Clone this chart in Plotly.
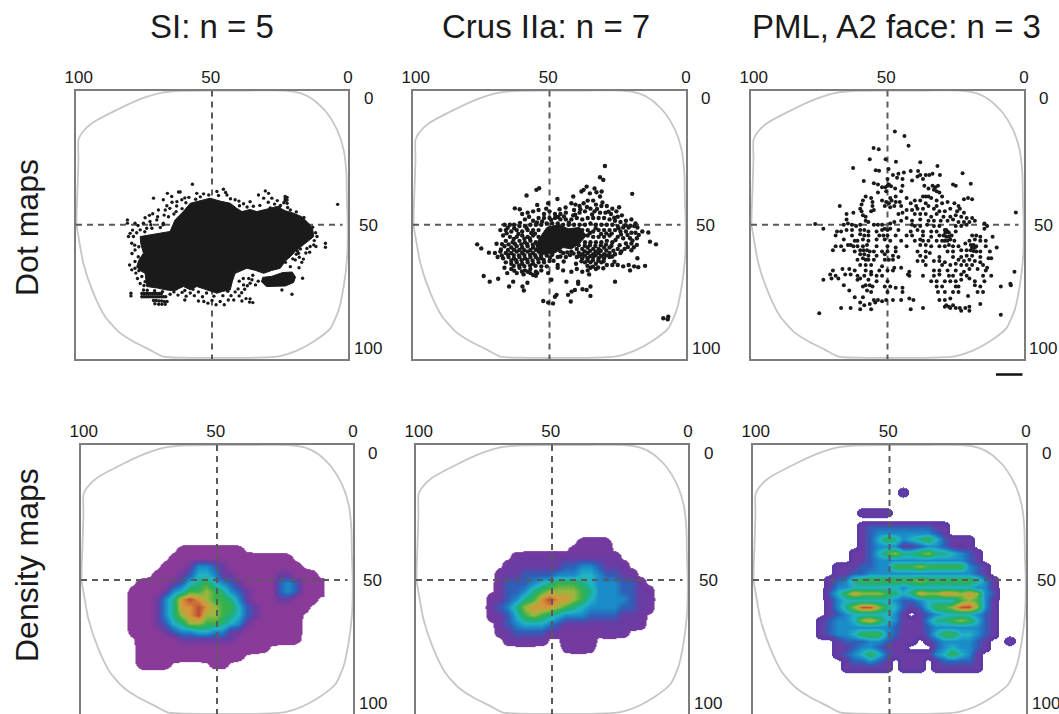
import plotly.graph_objects as go

# ---------- text ----------
titles = ["SI: n = 5", "Crus IIa: n = 7", "PML, A2 face: n = 3"]
row_labels = ["Dot maps", "Density maps"]
x_tick_vals = [99, 50.5, 0]
x_tick_text = ["100", "50", "0"]
y_label_text = ["0", "50", "100"]

# ---------- visual-field rim (percent units) ----------
rim_x = [99.1, 97.9, 94.2, 85, 76.4, 67.9, 60.5, 48.2, 36, 23.7, 17.5, 12.6, 7.7, 4, 1.6, .6, .4, .1, .4, 1.6, 3.4, 6.5,
         12.6, 18.8, 24.9, 33.5, 60.5, 67.9, 72.8, 78.9, 84.4, 89.3, 93.6, 97.3, 99.1, 99.8, 99.5, 99.1, 99.1]
rim_y = [18.4, 15.9, 12.2, 7.2, 3.2, .7, .1, 0, 0, 0, 1, 3.5, 8.4, 14.7, 22.1, 30.8, 40.7, 50.7, 63.1, 73, 81.7, 88.6,
         93.5, 96.9, 98.9, 99.5, 99.5, 99.1, 96.6, 93.5, 89.8, 84.2, 75.5, 64.3, 54.4, 49.9, 38.3, 25.8, 18.4]

# ---------- dot maps ----------
si_core_x = [58, 54.5, 50.7, 47, 43.3, 41, 39, 36, 33.5, 30, 26.1, 23, 20, 17, 14.5, 13, 12.6, 14.5, 16.3, 19, 21.2, 23, 24.9, 28, 31, 34,
             37.2, 39.5, 41.5, 42.5, 43.3, 46, 48.2, 52, 55.6, 58, 60.5, 64, 66.6, 70, 74, 74.6, 76.5, 77.7, 76.8, 75.2, 76.2, 76.4, 71, 65.4, 63.6, 60.5, 58]
si_core_y = [42, 41.2, 40.1, 41.2, 42, 43.8, 45.1, 44.3, 45.1, 44.2, 43.2, 44.8, 45.7, 47, 49.4, 51.5, 54.4, 56, 57.5, 59.5, 61.9, 63.5, 66.2, 67, 68.1, 67,
             66.2, 67.2, 68.1, 71, 74.3, 74.8, 75.5, 74.2, 73, 74.2, 73, 74.6, 74.3, 73.6, 73, 68.1, 67, 65.6, 63, 60.6, 57, 54.4, 53.4, 52.5, 48.2, 45, 42]
si_chunk_x = [31.5, 28, 24, 20.5, 19.3, 20, 23, 26, 30, 32]
si_chunk_y = [69.6, 69.2, 67.8, 67.6, 69.5, 71.5, 72.8, 73, 73, 71]
si_dots = [
 (57.2,34.9),(45.8,36.8),(62.3,37.8),(61.7,37.8),(66.4,38.3),(71.5,40.1),(64.8,39.5),(67.9,40.7),(66.6,42.9),(69.7,44.5),
 (67.2,44.5),(65.5,43.9),(62.9,41.4),(61.1,40.7),(55.6,38.3),(53.1,38.5),(48.2,37.6),(44.5,38.9),(41.5,40.7),(38.4,42.2),
 (36,41.4),(32.9,38.9),(30.4,37.4),(29.2,38.3),(28,40.1),(23.1,39.5),(23.1,40.3),(23.1,41),(22.4,39.8),(22.4,40.8),(22.4,42),
 (23.6,41.8),(31,40.1),(21.2,44.5),(3.8,42.4),(81.1,49.4),(81.1,48.2),(78.3,49.4),(75.2,49.4),(72.8,48.8),(70.3,48.2),
 (67.9,49.4),(74,51.3),(72.1,51.3),(76.4,51.9),(80.1,53.2),(80.7,54.4),(78.9,54.4),(79.5,56.9),(78.3,59.4),(77.1,61.9),
 (78.3,63.7),(79.5,66.8),(78.3,66.2),(76.5,64.2),(75.8,69.3),(74.6,71.2),(75.2,74.3),(79.8,76.5),(79.8,75.5),(11.4,54.4),
 (12.6,57.5),(13.9,58.1),(15.1,58.8),(11.8,58.1),(8.3,56.9),(8.3,58.4),(16.7,69.9),(20.6,75.9),(24.3,74.3),(18.2,60.6),
 (19.4,63.1),(21.2,65.6),(23,64),(60,40),(58.5,39.8),(56,40.5),(63,43),(61,44),(64,46),(70,47),(66,47),(73,46.5),
 (75.8,75.6),(75,75.6),(74.2,75.6),(73.4,75.6),(72.6,75.6),(71.8,75.6),(71,75.6),(70.2,75.6),(69.4,75.6),(68.6,75.6),
 (75.8,76.8),(75,76.8),(74.2,76.8),(73.4,76.8),(72.6,76.8),(71.8,76.8),(71,76.8),(70.2,76.8),(69.4,76.8),(68.6,76.8),(67.8,76.8),(67,76.8),
 (71.5,78.2),(70.5,78.2),(69.5,78.4),(68.5,78.4),(67.5,78.6),(66.5,78.6),(71,79.4),(69.6,79.6),(68.4,79.6),(67.2,79.6),
 (64,75),(62.5,76.2),(61,75.2),(59.5,76.6),(58,75.4),(60,78),(56.5,76.4),(55,75),(53.5,76.8),(55,78.4),(53,78.6),(51.5,79.2),
 (50,78.2),(48.5,79.8),(47,78.6),(45.5,79.8),(44,78),(43,76.4),(41.5,75),(42,78),(40,76.5),(39,78.4),(37.5,77.5),(36,77.6),(36.2,78.8),(35,79),
 (38,74),(40,71),(38.5,70),(36.5,70),(35,68.8),(33,71),(36,71.8),(34,72.4),(38.4,72.4),(18,66),(17,64),(19,61),(15.5,60.5),(17.5,59),
 (64.7,41.6),(63.2,45.1),(67.6,46.4),(71.8,45.9),(74.6,47.4),(77.2,50.3),(79.2,52),(77.7,53),(72.5,50),(69,51),(68,50),(74.7,52.6),
 (78.4,57.6),(76.9,58.2),(79.4,60.7),(80.3,65),(78,68),(76.9,67.1),(77.4,70),(76.4,71.9),(75,72.6),(73.8,74.4),(71.1,74.6),(68.2,74.9),(65.4,75.9),
 (63.2,73.9),(60,74.5),(57,74),(52,75.4),(49.3,76.6),(46,76.4),(44.2,74.8),(40.4,73.9),(39.1,75.3),(37,72.7),(35.3,70.5),
 (20.3,62.7),(17.9,62.1),(16.4,62.8),(18.6,59.8),(14.1,60.2),(12.4,55.9),(11.9,53),(13,50.9),(16.2,47.3),
 (19,45.2),(22.2,43.6),(24.8,42.8),(27,42.3),(29.3,41.6),(32.4,42.8),(34.8,43.1),(37.1,43.4),(39.9,42.9),(43.2,40.3),(47.6,39.1),(51.2,38.9),(54.3,39.6),
 (45,38),(40.1,41.2),(26,41),(25.2,43.4),(28.6,43.7),(59.6,41.8)]
crus_core_x = [55, 53, 51, 47, 43, 39, 36.5, 39, 42, 45, 48, 51, 54]
crus_core_y = [58, 54, 51, 50, 51.5, 51, 54, 57, 59, 58.5, 60.5, 61, 61]
crus_dots = [
 (29.7,28.1),(31.5,32.3),(30.3,33.3),(53.8,36.4),(54.8,37),(58.4,39.1),(47.1,40.4),(19.7,38.5),(36.4,35.8),(38.3,37.6),
 (32.8,37.9),(30.9,37.6),(35.2,38.3),(41.3,39.5),(31.5,39.5),(37.5,37),(33.5,36.5),(62.7,43.9),(58,45.5),(50.5,42),(54.5,42.6),
 (76.5,57.3),(75,58.8),(69.4,57.1),(72.2,60.4),(74.1,69.1),(71.9,71.2),(68.8,70.1),(64.8,73),(63.3,71.2),(59.9,73),(59.4,74.5),
 (58.1,71.6),(52.3,78.4),(50.5,79),(48.7,79.3),(48,76.8),(47.4,76.1),(43.8,71.2),(42.2,78.6),(43.2,76.1),(41.9,74.9),(40.7,74.3),
 (39.5,71.2),(39.5,72),(37.9,74),(36.4,74.3),(35,73),(35,76.5),(26,71.2),(8.3,84.8),(6.5,84.2),(6.7,85.2),(11,57.3),(13.2,56.3),
 (13.8,52.9),(16,52.5),(15,65.3),(17.5,65.8),(20.5,67),(17.8,62.5),(49.3,70.5),(45,67),(42,67.5),(40,66.5),(38,67.5),(35.5,68.5),(36,67),
 (50.5,68),(47,66),(53,67),(55,69),
 (42,42),(40.5,42.5),(39,43),(37.5,42),(36,41),(34,41),(33,42.5),(31,43),(29,43),(27,44),(25.5,45),(24.5,43.5),(41,44.5),(39,45.5),(37,45),
 (35,44),(33.5,45),(31.5,45.5),(29.5,45.5),(27.5,46),(25,47),(23.5,46.5),(60,46),(57.5,47),(56,45),(54,44.5),(52,46),(50,45),(48,46),
 (46,46),(44,45.5),(59,48),(56,48.5),(54,47.5),(52,47.5),(50,47.5),(48,47.5),(46,48),(44,48),(42,48),(40,47.5),(38,48),(36,47.5),(34,47.5),
 (32,47.5),(30,47.5),(28,48),(26,48.5),(24,49),(22,48.5),(20,48),(18.5,49.5),(66.5,50),(64.5,50),(63,50),(61,50.5),(59,50.5),(57,50),(55,50),(53,50),
 (51,49.5),(49,49.5),(47,49.5),(45,50),(43,50),(41,50),(39,50),(37,50),(35,49.5),(33,50),(31,50),(29,50),(27,50),(25,50.5),(23,51),(21,51),(19,50.5),(17.8,51),
 (68,52),(66,52),(64,52.5),(62,52),(60,52.5),(58,52),(56,52),(54,52),(38,52),(36,52),(34,52.5),(32,52),(30,52),(28,52),(26,52),(24,52.5),(22,52.5),(20,53),(18.5,53),
 (67,54),(64.5,54.5),(62,54.5),(60,54),(58,54.5),(56,54),(54,54.5),(36,54),(34,54.5),(32,54.5),(30,54.5),(28,54),(25,54.5),(23,55),(20.5,55),(18,55),
 (66,56),(63.5,56.5),(61,56),(59,56.5),(57,56),(55,56.5),(53.5,56),(37,56.5),(35,56.5),(33,56.5),(31,56.5),(29,56),(27,56.5),(22,57),(20,57),(18,57.5),
 (66.5,58),(64,58.5),(62,58),(60,58.5),(58,58),(56,58.5),(54,58.5),(40,59),(38,59),(36,58.5),(34,59),(32,59),(30,58.5),(28,58.5),(25,59),(22.5,59),(20,59.5),
 (70,60.5),(68,60),(66,60.5),(64,60.5),(62,60),(60,60.5),(58,60),(56,60.5),(54,60),(45,60.5),(42,60),(38,61),(36,60.5),(34,61),(32,60.5),(30,61),(28,60.5),(26,61),(24,60.5),
 (69,62),(67,62.5),(65,62),(63,62.5),(61,62),(59,62.5),(57,62),(55,62),(53,62.5),(51,61.5),(47,62),(44,62),(40,62),(38,62.5),(36,62.5),(34,62),(32,62.5),(30,62.5),(28,62),
 (66,64),(64,64.5),(62,64),(60,64.5),(58,64),(56,64.5),(54,64),(52,64),(50,63.5),(47,65),(37,64),(35,64),(33,64.5),(31,64),(29,65),(27,65),(25,65),(23,65.5),(21,65),(19,65.5),
 (66.5,66),(64,66.5),(61,66),(59,67),(57,66.5),(55,67.5),(53,65.5),(51,65.5),(35,66),(33,66.5),
 (65.5,68),(62,68),(59.5,68.5),(57,68),(54.5,68)]
crus_fill = [
 (65.3,51.1),(62.9,51.3),(60.8,49.3),(58.4,51.2),(56.7,53.1),(54.6,49.1),(52.7,48.8),(49.4,48.2),(46.8,47.1),(44.7,46.9),(42.9,49.2),(40.6,46.3),
 (38.7,44.2),(36.3,43.4),(34.4,46.2),(32.6,44.1),(30.6,41.7),(28.4,45.1),(26.3,47.4),(24.7,51.3),(22.2,50.2),(20.4,50.4),(65.7,53.2),(63.1,55.3),(61.4,53.4),
 (59.2,55.2),(57.2,55.1),(55.3,53.3),(35.2,53.1),(33.1,51.3),(31.1,53.4),(29.2,53.2),(27.2,53.3),(25.8,55.7),(23.8,53.6),(21.4,53.8),(19.6,55.9),(17.3,53.8),
 (67.4,57.2),(65,57.3),(62.7,57.1),(60.3,57.3),(58.2,57.2),(56.1,57.4),(54.4,57.3),(41.2,60.7),(39.3,57.6),(37.1,57.8),(35.2,57.6),(33.2,57.9),(31.2,57.6),(29.3,57.4),
 (27.3,57.8),(24.3,57.6),(21.3,58.3),(19.1,58.4),(67.8,59.2),(65.2,59.4),(63,59.3),(61,59.4),(59.2,59.5),(57,59.4),(55,59.3),(53,59.8),(51,59.6),(49,61.2),(46,59.9),(43.5,60.3),
 (39.3,60.4),(37.1,59.9),(35.2,59.8),(33.1,60),(31.2,59.7),(29.2,59.6),(26.6,59.7),(23.7,59.9),(67.5,61.4),(65.2,61.2),(63.1,61.3),(61.2,61.4),(59.2,61.3),(57.1,61.2),(55.3,61.3),
 (53.1,61.6),(49.8,62.2),(46,61.8),(42.5,61.3),(39.2,61.6),(37,61.5),(35.1,61.7),(33.1,61.4),(31.1,61.6),(29.1,61.4),(27,61.8),(64,63.3),(62.2,63.2),(60.2,63.2),(58.1,63.1),(56.2,63.3),
 (54.2,62.8),(52.1,63.1),(48.5,63.4),(44.8,63.7),(38.3,63.6),(36.1,63.3),(34.1,63.2),(32.1,63.4),(30.2,63.6),(26.2,63.8),(63.1,65.3),(61.1,65.2),(59.2,65.4),(57.1,65.2),(55.1,65.3),
 (40.3,64.5),(36.1,65.3),(34.1,65.6),(32.2,65.9),(30.3,66.2),(62.9,67.1),(60.1,67.4),(57.9,67.5),(56,68.7),(47.6,47.1),(51.2,44),(46.3,44.2),(44.1,43.6),(41.3,46.5),(60.9,44.2)]
pml_dots = [
 (47.3,15.3),(43.8,16.9),(42.3,20.6),(55.1,21.4),(53.2,21.9),(56.5,25.6),(50.7,25.6),(46.9,26.5),(38,26.7),(62.6,28.9),(31.7,28.1),
 (49.6,29.2),(54.3,29.7),(53.1,29.9),(46,31),(44,30.5),(41.5,30),(38.8,30),(38,31.5),(37,33),(36,31.5),(34.7,31.5),(33.5,31),(30.8,31.5),
 (22.5,30.8),(48,31.5),(46.5,32.5),(50,33),(44.5,33),(41,33.5),(39,32),(19.5,34.7),(58.7,33.7),(55,34.5),(53.5,35),(52,36),(50,35.5),(49.5,35),
 (48.7,35.7),(50.8,36),(47.2,36.5),(44.5,35.5),(36.5,35.5),(35,36.5),(33.5,35.5),(32.5,36),(31.5,35.5),(26,35),(25,35.5),(50.5,37.5),(45,37.5),(53.5,38),
 (33,37),(32,37.5),(31,38),(49,40),(47,39.5),(43,40),(37,39.5),(36,39.5),(35,39.5),(34,40),(32,41),(30,39.5),(22,40.5),(20.5,40),(19,40.5),
 (58,39.5),(59,41),(56,40),(55.5,41.5),(59.5,42.5),(55.5,43),(52,41),(50.5,41.5),(49.5,42),(48.5,41),(47,41.5),(45.5,41.5),(51,43),(49,43.5),(47.5,43),
 (45,43),(40,41),(41.5,42),(39.5,43),(38,41),(36,42),(35,43),(32,43),(30,42),(28,41.5),(25.5,42),(24,43),(23.5,44),(27,44),
 (67.5,43),(60,44),(59.5,45),(56,45),(55,44.5),(43,44.5),(41,44.5),(39,44),(37,44),(33,44),(31,45),(29,45),(24.5,45),(22,45.5),
 (65,46),(62.5,45.5),(59,46.5),(58,47),(46,46),(44.5,45.5),(40,46),(38,46),(36,46),(34,47),(32,46),(29.5,47),(27,47),(25,46.5),(23,47),(21,47.5),(19,47.5),(3,45.4),
 (65,48),(58,48.5),(57,49),(45,48.5),(43,47.5),(41,48.5),(38,48),(35,48.5),(33,48.5),(30.5,48.5),(28,48.5),(26,48),(24,49),(22,49),(20,49),(18,48.5),
 (76.5,49.7),(73.5,51.5),(66,50),(64.5,49.5),(63,50),(61.5,50.5),(60,50),(55,50),(53.5,50),(52,50),(49,49.5),(47.5,49),(41,50),(40,50.5),(38,50.5),(35.5,50),(33,50.5),(31,50.5),(25,50.5),(23,50.5),(21,50),(14.5,49.5),(13.5,50.5),
 (68.5,52.5),(67,52.5),(65,52),(63,52),(60,52),(58.5,52),(57,52.5),(54,52.5),(52,52),(51,51.5),(50,52),(49,51.5),(46,52),(41.5,52.5),(39,52),(37,52.5),(34,52.5),(32,52.5),(29,52),(28.5,52),(28,52.5),(27.5,53),(28.8,53),(25,52.5),(14.5,51.5),
 (69,54),(63,54),(60,53.5),(58.5,54),(57,54),(53,54),(51.5,54),(50,54),(47,54),(43,54),(41,54),(37,54),(34,54.5),(31,54),(29.5,54),(28.5,54.5),(27.5,54.5),(26.5,54),(19,54),(17.5,54),(16,54.5),(11.5,54.5),
 (66,55.5),(62,56),(61,56),(59,55.5),(57,56),(54,55.5),(51,55.5),(49,56),(45,56),(40,56),(38,55.5),(37,56),(35,56),(32,56),(30,56),(29,56),(28,56),(27,55.5),(25.5,56),(20,56),(18,55.5),(16,56),(14,56),
 (69,58),(67,58),(64.5,57.5),(63.5,57.5),(62.5,58),(61,58),(59,58),(57.5,57.5),(54,58),(50,58),(47,58.5),(43,58),(38,57.5),(36,57.5),(34,58),(31,58),(29,58),(27.5,57.5),(26,58),(24,58),(21.5,57),(19.5,57.5),(18.5,57.5),(17.5,58),(19,58.5),(18,58.5),(14,58),(10,58.5),
 (70,59.5),(66,59.5),(62,60),(60,59.5),(58.8,59.5),(57.5,59.5),(56.5,60),(55,60),(52,60),(50,60),(47,60),(39,60),(36,60),(34.5,60.5),(28,60),(26,60),(23,59.5),(21,59.5),(19.5,59.5),(18.5,59.8),(17.5,60),(16,60),(12.5,60),
 (60,61),(58.5,61),(57,61.5),(54,61.5),(51,61),(48,61.5),(46,62),(38,61.5),(36,62),(31,62),(26,62),(23,62),(21,61.5),(19,61.5),(16,62),(13,62.5),(12,62.5),
 (61,63),(59,62.5),(58,63),(57,63),(55,63),(51,63),(49.5,63),(48,63),(39,63.5),(37,63.5),(33,63.5),(31,63.5),(29,64),(24,63),(22,63.5),(20,63),(18,63.5),(16,64),
 (60,65),(58,65),(56,65),(52,65.5),(47.5,66),(45,66),(36,65),(30,65),(27,65),(25,64.5),(23,65),(21,65),(19,65),(15,65),(13.5,66),
 (70,67),(66.5,66.5),(64,66.5),(62,67),(58,67),(56,67.5),(53,67),(50,67),(48,67),(42,67.5),(33,67),(31,67),(28,67),(25,67),(22,67.5),(20,66.5),(17,66.5),(14,67),(3.5,67.5),
 (71,68.5),(69,69),(65.5,68.5),(63.5,68.5),(61,69),(58.5,69),(56,68.5),(54,69),(52,69),(42,69),(42.5,68.5),(37,69),(33,69),(31,68.5),(27.5,69),(26,69),(23,68.5),(21,69),(15,69),(12,69),
 (73.5,70.5),(70.5,70),(68,70),(61,70.5),(60,70),(57,70.5),(54,71),(50,71),(34,71),(32,71),(29,71),(27,71),(25,71),(23,70.5),(20,70),(18,71),(14.5,71),(5,72),
 (66,72.5),(58,72.5),(56.5,72.5),(55.5,73),(59,73),(51,73),(49,73),(47,73.5),(44.5,73.5),(32,73),(30,73),(25,73),(24,73),(18,72.5),(16,73),(8.5,73),(4.8,72.5),
 (64,74.5),(57.5,74.5),(56,75),(50,75),(44.5,75),(31.5,75),(29,75),(26,75),(24,75),(17,75),(15,75),
 (62,77),(59,77),(55,78),(53.5,78),(52,78.5),(50.5,78),(48,78),(45,78),(42,77.5),(40.5,78),(20.5,76.5),(27,77.5),(29,78),(31,78),
 (60,79),(58.5,80),(56.5,79.5),(54.5,79),(28.5,80),(27.5,80.5),(26,80),(25,81),(23.5,81),(21.5,81),(20,80.5),(16,79.5),
 (67,81),(63.5,81),(60,81.5),(56,81.5),(41.5,81.5),(37,81),(29,80.5),(27,81),(23,82),(20,82),(75,83),(8.5,83.5)]

# ---------- density maps: one character per cell, "." = no data, 0..9 = density level ----------
si_density_x = [84, 81, 78, 75, 72, 69, 66, 63, 60, 57, 54, 51, 48, 45, 42, 39, 36, 33, 30, 27, 24, 21, 18, 15, 12]
si_density_y = [33, 36, 39, 42, 45, 48, 51, 54, 57, 60, 63, 66, 69, 72, 75, 78, 81, 84]
si_density = [
 ".........................",
 ".........................",
 ".......00000000..........",
 "......000000000000000....",
 ".....00013321000000000...",
 "....00012443110000011000.",
 "..00001245643210000232000",
 ".000013466765321000232000",
 ".00013589876653100011000.",
 ".0001358898766421000000..",
 ".000135789776542100000...",
 ".000124577665431000000...",
 ".000012334433110000000...",
 "..00000111111100000000...",
 "..0000000000000000.......",
 "..0000000000000..........",
 "..0000.....00............",
 ".........................",
]
crus_density_x = si_density_x
crus_density_y = si_density_y
crus_density = [
 ".........................",
 "...............0000......",
 "..............00000......",
 ".......1111111111111.....",
 "......111111122332111....",
 ".....11122223334432211...",
 ".....122234566654333221..",
 ".....1223567777653332211.",
 "....11235689887643333211.",
 "....12357888765433332211.",
 "....1124676543332222111..",
 ".....123444321111111111..",
 ".....1122221100000111....",
 "......11111..0000........",
 ".............0000........",
 ".........................",
 ".........................",
 ".........................",
]
pml_density_x = [78, 75, 72, 69, 66, 63, 60, 57, 54, 51, 48, 45, 42, 39, 36, 33, 30, 27, 24, 21, 18, 15, 12, 9, 6, 3]
pml_density_y = [15, 17.5, 20, 22.5, 25, 27.5, 30, 32.5, 35, 37.5, 40, 42.5, 45, 47.5, 50, 52.5, 55, 57.5, 60, 62.5,
                 65, 67.5, 70, 72.5, 75, 77.5, 80, 82.5, 85]
pml_density = [
 "..........................",
 "...........1..............",
 "..........................",
 "..........................",
 "......1111................",
 "..........................",
 "......12222222211.........",
 "......12333333321.........",
 "......12465345642111......",
 "......12333112332101......",
 ".....1124675567554321.....",
 ".....1123333333333321.....",
 "...1112233666766666321....",
 "...1122333333333333321....",
 "..123566666667666666531...",
 "..133444444344444444331...",
 "..246877765458778878732...",
 "..134444443223444467631...",
 "..135799754212466799731...",
 "..1234444431.1234444321...",
 ".1233478643111355676421...",
 ".1233333332111233333321...",
 ".1233466632111246644321...",
 "...1222332111.12333321..1.",
 "...112332111...2343321....",
 "...123464211111346431.....",
 "....122321.111.122221.....",
 "....111111.111.111111.....",
 "..........................",
]

density_colors = ["#8a3a98", "#6a3ca4", "#2f5fb8", "#1a8cc8", "#22b4c6", "#1fb07e", "#38b24a", "#9cb63e", "#d8963a", "#bb4a38"]
edge_colors = ["#8a3a98", "#743a9f", "#5c3ba6"]


def decode(rows, soften):
    out = [[-1.0 if c == "." else float(c) for c in r] for r in rows]
    if not soften:
        return out
    # empty cells beside filled ones sit closer to the cut-off, which rounds the stair-stepped outline
    res = [row[:] for row in out]
    for j, row in enumerate(out):
        for k, v in enumerate(row):
            if v < 0:
                n = sum(1 for a in (-1, 0, 1) for b in (-1, 0, 1) if (a or b) and 0 <= j + a < len(out)
                        and 0 <= k + b < len(row) and out[j + a][k + b] >= 0)
                res[j][k] = min(-0.58, -1 + 0.1 * n)
    return res


def make_scale(edge):
    cols = [edge] + density_colors[1:]
    s = [[0, "#ffffff"], [0.05, "#ffffff"], [0.0501, edge]]
    for i, c in enumerate(cols):
        s.append([(i + 1) / 10, c])
    return s


W, H = 1059, 714
frames = [(76, 348, 90.5, 359), (413, 686, 90.5, 359), (751, 1024, 90.5, 359),
          (81, 353, 445, 714), (416, 688, 445, 714), (753, 1026, 445, 714)]
y_label_x = [368, 705.5, 1043, 372.5, 708, 1046]
title_x = [212, 546, 896]

fig = go.Figure()
ink = "#1a1a1a"


def axes(i):
    return ("x" if i == 0 else f"x{i+1}"), ("y" if i == 0 else f"y{i+1}")


for i, (l, r, t, b) in enumerate(frames):
    xa, ya = axes(i)
    top_row = i < 3
    ymax = 100 if top_row else 99.6
    suffix = "" if i == 0 else str(i + 1)
    fig.layout["xaxis" + suffix] = dict(
        domain=[l / W, r / W], range=[100, 0], anchor=ya, side="top", showgrid=False, zeroline=False, automargin=False,
        showline=True, linecolor="#7d7d7d", linewidth=2, mirror=top_row, tickmode="array",
        tickvals=x_tick_vals, ticktext=x_tick_text, ticks="", ticklen=0, ticklabelstandoff=-1,
        tickfont=dict(family="Liberation Sans", size=17, color=ink), fixedrange=True)
    fig.layout["yaxis" + suffix] = dict(
        domain=[1 - b / H, 1 - t / H], range=[ymax, 0], anchor=xa, showgrid=False, zeroline=False, automargin=False,
        showline=True, linecolor="#7d7d7d", linewidth=2, mirror=True, showticklabels=False, ticks="", fixedrange=True)


def add_density(i, xs, ys, rows, edge, soften):
    xa, ya = axes(i)
    fig.add_trace(go.Heatmap(x=xs, y=ys, z=decode(rows, soften), zmin=-1, zmax=9, colorscale=make_scale(edge), zsmooth="best",
                             showscale=False, hoverinfo="skip", xaxis=xa, yaxis=ya))


add_density(3, si_density_x, si_density_y, si_density, edge_colors[0], True)
add_density(4, crus_density_x, crus_density_y, crus_density, edge_colors[1], True)
add_density(5, pml_density_x, pml_density_y, pml_density, edge_colors[2], False)

for i in range(6):
    xa, ya = axes(i)
    fig.add_trace(go.Scatter(x=rim_x, y=rim_y, mode="lines", line=dict(color="#c6c6c6", width=1.8, shape="spline", smoothing=0.6),
                             hoverinfo="skip", xaxis=xa, yaxis=ya))
    fig.add_trace(go.Scatter(x=[100, 2], y=[50, 50], mode="lines", line=dict(color="#5a5a5a", width=2, dash="6px,5px"),
                             hoverinfo="skip", xaxis=xa, yaxis=ya))
    fig.add_trace(go.Scatter(x=[50, 50], y=[0, 100], mode="lines", line=dict(color="#5a5a5a", width=2, dash="6px,5px"),
                             hoverinfo="skip", xaxis=xa, yaxis=ya))


def add_dots(i, pts, size):
    xa, ya = axes(i)
    fig.add_trace(go.Scatter(x=[p[0] for p in pts], y=[p[1] for p in pts], mode="markers",
                             marker=dict(color=ink, size=size, line=dict(width=0)), hoverinfo="skip", xaxis=xa, yaxis=ya))


def add_blob(i, xs, ys):
    xa, ya = axes(i)
    fig.add_trace(go.Scatter(x=xs, y=ys, mode="lines", fill="toself", fillcolor=ink, line=dict(color=ink, width=1),
                             hoverinfo="skip", xaxis=xa, yaxis=ya))


add_blob(0, si_core_x, si_core_y)
add_blob(0, si_chunk_x, si_chunk_y)
add_dots(0, si_dots, 3.4)
add_blob(1, crus_core_x, crus_core_y)
add_dots(1, crus_dots + crus_fill, 4.4)
add_dots(2, pml_dots, 4)

ann = []
for k, text in enumerate(titles):
    ann.append(dict(text=text, x=title_x[k] / W, y=1 - 27 / H, xref="paper", yref="paper", showarrow=False,
                    xanchor="center", yanchor="middle", font=dict(family="Liberation Sans", size=33, color=ink)))
for k, (text, py) in enumerate(zip(row_labels, [228, 565])):
    ann.append(dict(text=text, x=27 / W, y=1 - py / H, xref="paper", yref="paper", showarrow=False, textangle=-90,
                    xanchor="center", yanchor="middle", font=dict(family="Liberation Sans", size=32, color=ink)))
for i in range(6):
    ys = [99, 225, 348] if i < 3 else [453, 580, 703]
    for text, py in zip(y_label_text, ys):
        ann.append(dict(text=text, x=y_label_x[i] / W, y=1 - py / H, xref="paper", yref="paper", showarrow=False,
                        xanchor="center", yanchor="middle", font=dict(family="Liberation Sans", size=17, color=ink)))

fig.add_shape(type="line", xref="paper", yref="paper", x0=996 / W, x1=1022.5 / W, y0=1 - 374.5 / H, y1=1 - 374.5 / H,
              line=dict(color="#111111", width=2.5))

fig.update_layout(width=W, height=H, margin=dict(l=0, r=0, t=0, b=0, autoexpand=False), autosize=False, showlegend=False,
                  paper_bgcolor="white", plot_bgcolor="white", annotations=ann)
fig.write_html("out.html", post_script="document.body.style.margin='0';document.body.style.overflow='hidden';",
               config={"displayModeBar": False})
